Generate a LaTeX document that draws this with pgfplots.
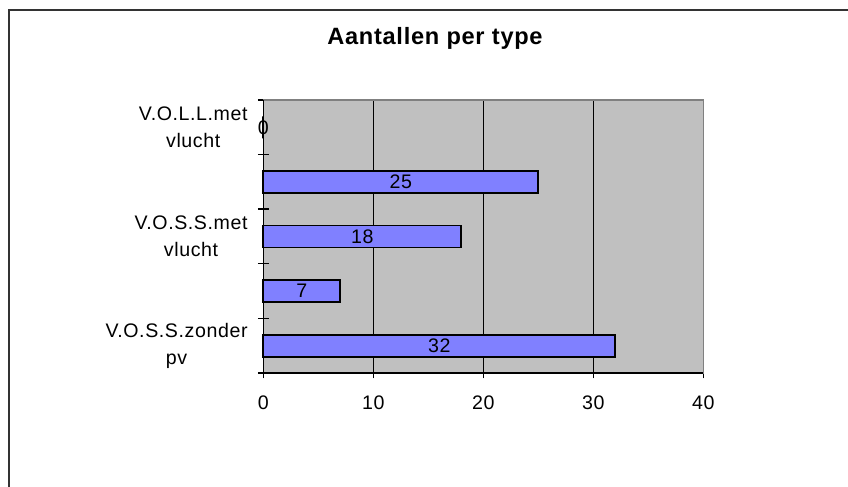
\documentclass[border=0pt]{standalone}
\usepackage{pgfplots}
\pgfplotsset{compat=1.18}
\usepackage{pgfplotstable}
\usepackage{fontspec}
\setmainfont[LetterSpace=3]{Liberation Sans}
\definecolor{plotgray}{HTML}{C0C0C0}
\definecolor{bordergray}{HTML}{808080}
\definecolor{barblue}{HTML}{8080FF}
\definecolor{framecol}{HTML}{333333}

\pgfplotstableread{
y v
0 32
1 7
2 18
3 25
4 0
}\datatable

\begin{document}
\begin{tikzpicture}
\path[use as bounding box] (0pt,0pt) rectangle (424pt,243.5pt);
\draw[framecol, line width=1pt] (4.25pt,0pt) -- (4.25pt,238.5pt) -- (424pt,238.5pt);
\node[font=\fontsize{11.8}{13}\selectfont\bfseries, anchor=base, inner sep=0pt] at (217.5pt,221pt) {Aantallen per type};
\begin{axis}[
  at={(131.7pt,57pt)}, anchor=south west,
  scale only axis, width=220pt, height=136.5pt,
  font=\fontsize{9.8}{13.5}\selectfont,
  /pgf/number format/assume math mode=true,
  xmin=0, xmax=40, ymin=-0.5, ymax=4.5,
  xtick={0,10,20,30,40},
  ytick={-0.5,0.5,1.5,2.5,3.5,4.5}, yticklabels={},
  extra y ticks={0,2,4},
  extra y tick labels={{V.O.S.S.zonder\\pv},{V.O.S.S.met\\vlucht},{V.O.L.L.met\\vlucht}},
  extra y tick style={major tick length=0pt, yticklabel style={align=center, xshift=-4.4pt}},
  xticklabel style={yshift=-4.9pt},
  xtick pos=bottom, ytick pos=left,
  tick align=center, major tick length=5.5pt,
  tick style={black, line width=0.7pt},
  xmajorgrids, grid style={black, line width=0.5pt},
  axis background/.style={fill=plotgray},
  axis line style={bordergray, line width=0.8pt},
  clip=false,
]
\addplot[xbar, bar width=11pt, fill=barblue, draw=black, line width=0.9pt]
  table[x=v, y=y] {\datatable};
\addplot[only marks, mark=*, mark size=0pt, draw=none,
  nodes near coords, point meta=explicit symbolic,
  every node near coord/.style={anchor=center, font=\fontsize{9.8}{13.5}\selectfont}]
  table[x expr=\thisrow{v}/2, y=y, meta=v] {\datatable};
\draw[bordergray, line width=0.8pt] (rel axis cs:1,0) -- (rel axis cs:1,1) -- (rel axis cs:0,1);
\draw[black, line width=0.8pt] (rel axis cs:0,1) -- (rel axis cs:0,0) -- (rel axis cs:1,0);
\end{axis}
\end{tikzpicture}
\end{document}
